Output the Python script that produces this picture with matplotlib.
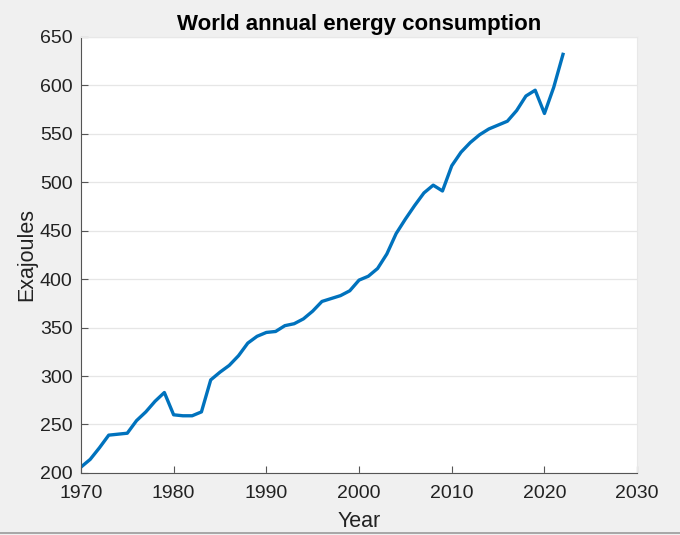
import matplotlib
matplotlib.use("Agg")
import matplotlib.pyplot as plt
from matplotlib.lines import Line2D

# --- data ------------------------------------------------------------------
years = list(range(1970, 2023))
exajoules = [
    206, 214, 226, 239, 240, 241, 254, 263, 274, 283,
    260, 259, 259, 263, 296, 304, 311, 321, 334, 341,
    345, 346, 352, 354, 359, 367, 377, 380, 383, 388,
    399, 403, 411, 426, 447, 462, 476, 489, 497, 491,
    517, 531, 541, 549, 555, 559, 563, 574, 589, 595,
    571, 598, 632,
]
x_ticks = [1970, 1980, 1990, 2000, 2010, 2020, 2030]
y_ticks = [200, 250, 300, 350, 400, 450, 500, 550, 600, 650]

# --- styling (MATLAB-like) -------------------------------------------------
LINE_COLOR = "#0072BD"
AXIS_COLOR = "#555555"
GRID_COLOR = "#e6e6e6"
TEXT_COLOR = "#222222"
FIG_BG = "#f0f0f0"

plt.rcParams["font.family"] = ["Liberation Sans", "DejaVu Sans"]

fig = plt.figure(figsize=(6.8, 5.35), dpi=100, facecolor=FIG_BG)
ax = fig.add_axes([0.119, 0.116, 0.818, 0.815])
ax.set_facecolor("white")

ax.plot(years, exajoules, color=LINE_COLOR, linewidth=2.4)

ax.set_xlim(1970, 2030)
ax.set_ylim(200, 650)
ax.set_xticks(x_ticks)
ax.set_yticks(y_ticks)
ax.tick_params(direction="in", length=5, width=0.8, color=AXIS_COLOR,
               labelsize=14, labelcolor=TEXT_COLOR)
ax.tick_params(axis="x", pad=9)
ax.tick_params(axis="y", pad=6)

ax.yaxis.grid(True, color=GRID_COLOR, linewidth=0.9)
ax.set_axisbelow(True)

for side in ("top", "right"):
    ax.spines[side].set_color("#e8e8e8")
    ax.spines[side].set_linewidth(0.8)
for side in ("left", "bottom"):
    ax.spines[side].set_color(AXIS_COLOR)
    ax.spines[side].set_linewidth(0.8)

ax.set_title("World annual energy consumption", fontsize=16, fontweight="bold", pad=5)
ax.set_xlabel("Year", fontsize=15.5, labelpad=6, color=TEXT_COLOR)
ax.set_ylabel("Exajoules", fontsize=15.5, labelpad=2, color=TEXT_COLOR)

# thin frame line along the bottom edge of the window
fig.add_artist(Line2D([0, 1], [0.004, 0.004], transform=fig.transFigure,
                      color="#9a9a9a", linewidth=1.2))

fig.savefig("out.png", dpi=100, facecolor=FIG_BG)
